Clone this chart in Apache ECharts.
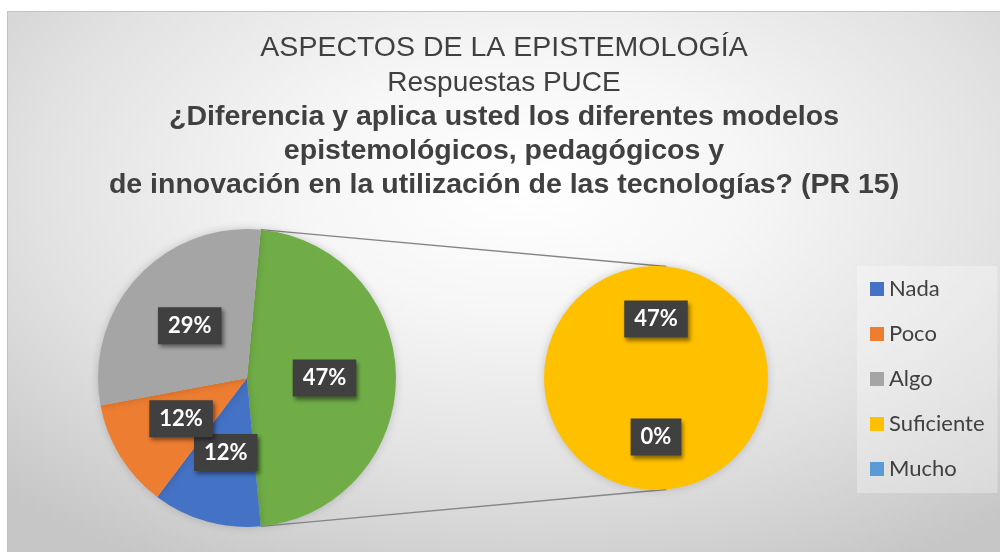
<!DOCTYPE html>
<html>
<head>
<meta charset="utf-8">
<script src="https://cdn.jsdelivr.net/npm/echarts@6/dist/echarts.min.js"></script>
<style>
html, body { margin: 0; padding: 0; background: #fff; }
#chart {
    position: absolute;
    left: 7px;
    top: 11px;
    width: 993px;
    height: 541px;
    border-top: 1px solid #c4c4c4;
    border-left: 1px solid #c4c4c4;
    box-sizing: border-box;
    background: radial-gradient(ellipse 75% 80% at 52% 32%, #ffffff 0%, #f6f6f6 30%, #e2e2e2 65%, #c6c6c6 100%);
}
</style>
</head>
<body>
<div id="chart"></div>
<script>
// respuestas (conteos)
var categories = ['Nada', 'Poco', 'Algo', 'Suficiente', 'Mucho']
var counts = [2, 2, 5, 8, 0]
var colors = ['#4472C4', '#ED7D31', '#A5A5A5', '#FFC000', '#5B9BD5']
var otherName = 'Otro'
var otherColor = '#70AD47'
var splitIndex = 3 // desde aqui van al segundo circulo
var titleLines = ['ASPECTOS DE LA EPISTEMOLOGÍA', 'Respuestas PUCE']
var questionLines = [
    '¿Diferencia y aplica usted los diferentes modelos',
    'epistemológicos, pedagógicos y',
    'de innovación en la utilización de las tecnologías? (PR 15)'
]

var total = counts.reduce(function (a, b) { return a + b }, 0)
var otherValue = counts.slice(splitIndex).reduce(function (a, b) { return a + b }, 0)

// geometria de los dos circulos (coordenadas del contenedor)
var c1 = [239, 366], r1 = 149
var c2 = [648, 366], r2 = 112
var halfAngle = 180 * otherValue / total

var leftData = [{ name: otherName, value: otherValue, itemStyle: { color: otherColor } }]
var rightData = []
categories.forEach(function (name, i) {
    var item = { name: name, value: counts[i], itemStyle: { color: colors[i] } }
    if (i < splitIndex) leftData.push(item)
    else rightData.push(item)
})

var labelStyle = {
    show: true,
    position: 'inside',
    formatter: function (p) {
        return Math.round(p.value / total * 100) + '%'
    },
    color: '#fff',
    fontFamily: 'Lato',
    fontWeight: 'bold',
    fontSize: 22,
    backgroundColor: '#404040',
    padding: [8, 10, 7, 10],
    shadowColor: 'rgba(0,0,0,0.45)',
    shadowBlur: 4,
    shadowOffsetX: 2,
    shadowOffsetY: 3
}

function pt(c, r, deg) {
    var a = deg * Math.PI / 180
    return [c[0] + r * Math.cos(a), c[1] - r * Math.sin(a)]
}
var p1 = pt(c1, r1, halfAngle), p2 = pt(c1, r1, -halfAngle)
var q1 = pt(c2, r2, halfAngle), q2 = pt(c2, r2, -halfAngle)

var titles = [
    { text: titleLines[0], left: 'center', top: 17,
      textStyle: { fontFamily: 'Liberation Sans', fontWeight: 'normal', fontSize: 28.5, color: '#404040' } },
    { text: titleLines[1], left: 'center', top: 52,
      textStyle: { fontFamily: 'Liberation Sans', fontWeight: 'normal', fontSize: 28, color: '#404040' } }
]
var qTops = [86, 120, 154]
questionLines.forEach(function (t, i) {
    titles.push({ text: t, left: 'center', top: qTops[i],
        textStyle: { fontFamily: 'Liberation Sans', fontWeight: 'bold', fontSize: 28.5, color: '#404040' } })
})

var myChart = echarts.init(document.getElementById('chart'))
var option = {
    animation: false,
    title: titles,
    legend: {
        orient: 'vertical',
        left: 849,
        top: 254,
        padding: [12, 13, 13, 13],
        backgroundColor: 'rgba(255,255,255,0.3)',
        icon: 'rect',
        itemWidth: 14,
        itemHeight: 14,
        itemGap: 23,
        textStyle: { fontFamily: 'Lato', fontSize: 22, lineHeight: 18, color: '#404040' },
        data: categories
    },
    graphic: [
        { type: 'line', shape: { x1: p1[0], y1: p1[1], x2: q1[0], y2: q1[1] }, style: { stroke: '#858585', lineWidth: 1.3 } },
        { type: 'line', shape: { x1: p2[0], y1: p2[1], x2: q2[0], y2: q2[1] }, style: { stroke: '#858585', lineWidth: 1.3 } }
    ],
    series: [
        {
            type: 'pie',
            center: c1,
            radius: r1,
            startAngle: halfAngle,
            clockwise: true,
            avoidLabelOverlap: false,
            minShowLabelAngle: 0,
            label: labelStyle,
            labelLine: { show: false },
            labelLayout: { hideOverlap: false },
            itemStyle: { shadowColor: 'rgba(0,0,0,0.18)', shadowBlur: 8 },
            emphasis: { disabled: true },
            data: leftData
        },
        {
            type: 'pie',
            center: c2,
            radius: r2,
            startAngle: 270,
            clockwise: true,
            avoidLabelOverlap: false,
            label: labelStyle,
            labelLine: { show: false },
            labelLayout: { hideOverlap: false },
            itemStyle: { shadowColor: 'rgba(0,0,0,0.18)', shadowBlur: 8 },
            emphasis: { disabled: true },
            data: rightData
        }
    ]
}
myChart.setOption(option)
</script>
</body>
</html>
